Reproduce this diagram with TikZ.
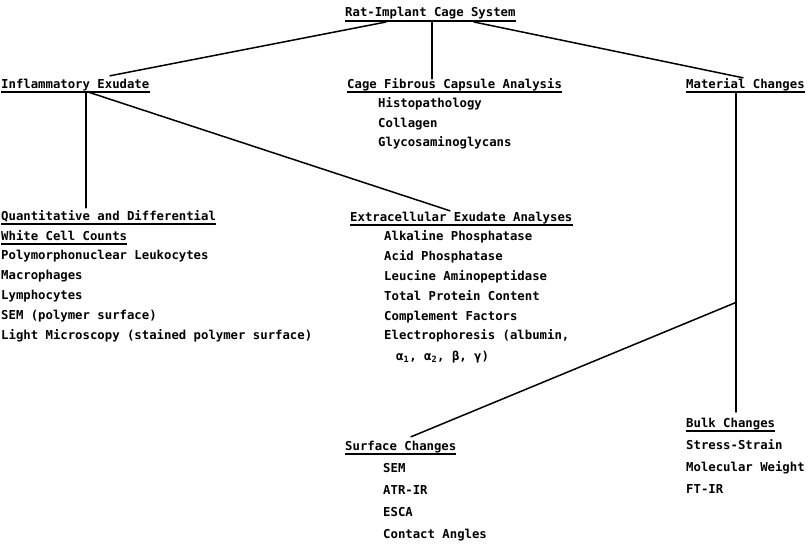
\documentclass[tikz,border=0pt]{standalone}
\usepackage{fontspec}
\newfontfamily\typfont{DejaVu Sans Mono}
\newcommand{\tfont}{\fontsize{12.3}{14}\typfont\bfseries}
\usetikzlibrary{calc, positioning}

\begin{document}
\begin{tikzpicture}[x=1pt, y=-1pt,
	lbl/.style={anchor=base west, inner sep=0pt, text height=9pt, text depth=3pt, font=\tfont},
	hd/.style={lbl, append after command={([yshift=-4pt]\tikzlastnode.base west) edge[uline] ([yshift=-4pt]\tikzlastnode.base east)}},
	uline/.style={line width=1.2pt},
	link/.style={line width=1.5pt, line cap=round}]
				\useasboundingbox (0,0) rectangle (810,543);
				
				% Headings
				\node[hd] (sys) at (345,17) {Rat-Implant Cage System};
				\node[hd] (infl) at (1,88) {Inflammatory Exudate};
				\node[hd] (cage) at (347,88) {Cage Fibrous Capsule Analysis};
				\node[hd] (matl) at (686,88) {Material Changes};
				\node[hd] (quant) at (1,220) {Quantitative and Differential};
				\node[hd] (wcc) at (1,240) {White Cell Counts};
				\node[hd] (extra) at (350,221) {Extracellular Exudate Analyses};
				\node[hd] (bulk) at (686,427) {Bulk Changes};
				\node[hd] (surf) at (345,450) {Surface Changes};
				
				% Item lists
				\foreach \t [count=\i] in {Histopathology, Collagen, Glycosaminoglycans}
					\node[lbl] (cg\i) at (378,{88+19.5*\i}) {\t};
				\foreach \t [count=\i] in {Polymorphonuclear Leukocytes, Macrophages, Lymphocytes, SEM (polymer surface), Light Microscopy (stained polymer surface)}
					\node[lbl] (wc\i) at (1,{240+19.8*\i}) {\t};
				\foreach \t [count=\i] in {Alkaline Phosphatase, Acid Phosphatase, Leucine Aminopeptidase, Total Protein Content, Complement Factors, {Electrophoresis (albumin,}}
					\node[lbl] (ex\i) at (384,{221+19.8*\i}) {\t};
				\node[lbl] (greek) at (396,360) {α\textsubscript{1}, α\textsubscript{2}, β, γ)};
				\foreach \t [count=\i] in {Stress-Strain, Molecular Weight, FT-IR}
					\node[lbl] (bk\i) at (686,{427+22*\i}) {\t};
				\foreach \t [count=\i] in {SEM, ATR-IR, ESCA, Contact Angles}
					\node[lbl] (sf\i) at (383,{450+22.2*\i}) {\t};
				
				% Connectors from the top
				\draw[link] ([xshift=41pt,yshift=-5pt]sys.base west) -- ([xshift=109pt,yshift=3pt]infl.north west);
				\draw[link] ([xshift=87pt,yshift=-5pt]sys.base west) -- ([xshift=85pt]cage.north west);
				\draw[link] ([xshift=129pt,yshift=-5pt]sys.base west) -- ([xshift=57pt,yshift=1pt]matl.north west);
				
				% Inflammatory exudate branches
				\draw[link] ([xshift=85pt,yshift=-4pt]infl.base west) -- ([xshift=85pt,yshift=3pt]quant.north west);
				\draw[link] ([xshift=87pt,yshift=-4pt]infl.base west) -- ([xshift=100pt,yshift=1pt]extra.north west);
				
				% Material changes branches
				\coordinate (mtop) at ([xshift=50pt,yshift=-4pt]matl.base west);
				\coordinate (mbot) at ([xshift=50pt,yshift=6pt]bulk.north west);
				\draw[link, line width=2pt] (mtop) -- (mbot) coordinate[pos=0.658] (mj);
				\draw[link] (mj) -- ([xshift=66pt,yshift=4pt]surf.north west);
			\end{tikzpicture}
\end{document}
